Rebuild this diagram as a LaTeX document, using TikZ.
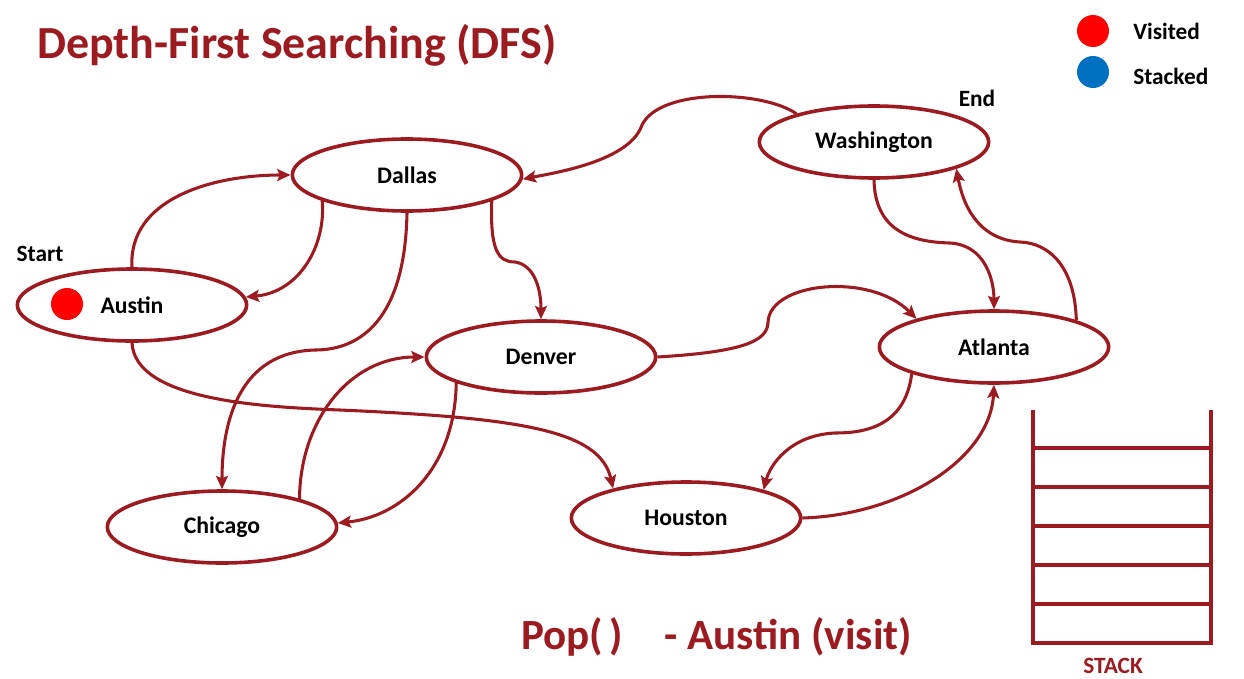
\documentclass[tikz,border=0pt]{standalone}
\usepackage{fontspec}
\setmainfont{Carlito}
\usetikzlibrary{shapes.geometric,arrows.meta}
\definecolor{dred}{HTML}{9B1B20}
\definecolor{vred}{HTML}{FF0000}
\definecolor{sblue}{HTML}{0070C0}
\begin{document}
\begin{tikzpicture}[x=0.75pt,y=-0.75pt,
  city/.style={ellipse,draw=dred,line width=2.7pt,minimum width=172pt,minimum height=54pt,inner sep=0pt,font=\fontsize{17.8}{20}\selectfont\bfseries},
  conn/.style={draw=dred,line width=2.3pt,-{Stealth[length=10pt,width=9pt,inset=2pt]}},
  lbl/.style={font=\fontsize{17.5}{20}\selectfont\bfseries,inner sep=0pt},
  stk/.style={draw=dred,line width=2.4pt}]
\useasboundingbox (0,0) rectangle (1244,678);
\node[anchor=west,text=dred,font=\fontsize{34.5}{40}\selectfont\bfseries,inner sep=0pt] (title) at (37,45) {Depth-First Searching (DFS)};
% legend
\fill[vred] (1093,31) circle (16);
\node[lbl,anchor=west] (lv) at (1133,31) {Visited};
\fill[sblue] (1093,72) circle (16);
\node[lbl,anchor=west] (ls) at (1133,76) {Stacked};
% cities
\node[city] (Dallas) at (407,175) {Dallas};
\node[city] (Washington) at (874,142) {Washington};
\node[city] (Austin) at (132,305) {Austin};
\node[city] (Denver) at (541,357) {Denver};
\node[city] (Atlanta) at (994,347) {Atlanta};
\node[city] (Chicago) at (222,527) {Chicago};
\node[city] (Houston) at (686,518) {Houston};
\fill[vred] (67,304) circle (16);
\node[lbl] (start) at (40,254) {Start};
\node[lbl] (end) at (977,98) {End};
% connectors
\draw[conn] (Austin.90) .. controls (128,200) and (210,175) .. (Dallas.180);
\draw[conn] (Dallas.197) .. controls (326,245) and (300,292) .. (Austin.4);
\draw[conn] (Dallas.270) .. controls (405,320) and (360,350) .. (315,350) .. controls (240,352) and (222,420) .. (Chicago.90);
\draw[conn] (Dallas.343) .. controls (490,250) and (498,262) .. (515,262) .. controls (535,265) and (541,290) .. (Denver.90);
\draw[conn] (Washington.160) .. controls (762,90) and (660,88) .. (642,125) .. controls (630,160) and (560,172) .. (Dallas.358);
\draw[conn] (Washington.270) .. controls (875,230) and (910,242) .. (950,243) .. controls (985,245) and (994,280) .. (Atlanta.90);
\draw[conn] (Atlanta.18) .. controls (1075,268) and (1050,243) .. (1020,242) .. controls (985,240) and (965,215) .. (Washington.342);
\draw[conn] (Denver.0) .. controls (740,352) and (768,342) .. (768,322) .. controls (770,282) and (870,272) .. (Atlanta.160);
\draw[conn] (Austin.270) .. controls (135,400) and (260,407) .. (340,410) .. controls (520,418) and (600,430) .. (Houston.158);
\draw[conn] (Chicago.20) .. controls (300,420) and (350,357) .. (Denver.180);
\draw[conn] (Denver.197) .. controls (455,470) and (400,517) .. (Chicago.2);
\draw[conn] (Atlanta.198) .. controls (905,428) and (862,433) .. (835,433) .. controls (790,435) and (770,465) .. (Houston.20);
\draw[conn] (Houston.0) .. controls (900,515) and (990,460) .. (Atlanta.270);
% stack
\draw[stk] (1033,410) -- (1033,643) -- (1211,643) -- (1211,410);
\foreach \yy in {448,487,526,565,604} \draw[stk] (1033,\yy) -- (1211,\yy);
\node[text=dred,font=\fontsize{17.5}{20}\selectfont\bfseries,inner sep=0pt] (stacklbl) at (1113,666) {STACK};
% caption
\node[anchor=west,text=dred,font=\fontsize{32.3}{36}\selectfont\bfseries,inner sep=0pt] (pop) at (521,637) {Pop(\hspace{5pt})\hspace{31pt}- Austin (visit)};
\end{tikzpicture}
\end{document}
